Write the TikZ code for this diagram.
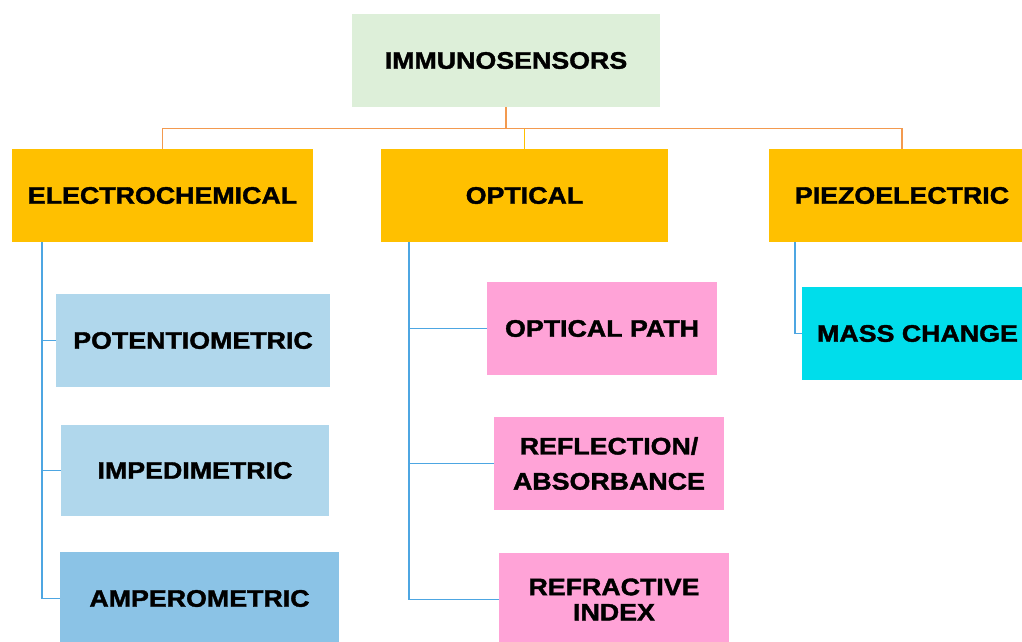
\documentclass[tikz,border=0pt]{standalone}
\usepackage{fontspec}
\setmainfont{Liberation Sans}[FakeStretch=1.12, BoldFeatures={FakeBold=1.6}]
\usepackage{xcolor}
\definecolor{topgreen}{RGB}{221,239,217}
\definecolor{gold}{RGB}{255,192,0}
\definecolor{paleblue}{RGB}{176,215,236}
\definecolor{midblue}{RGB}{139,195,230}
\definecolor{pink}{RGB}{255,163,215}
\definecolor{cyanbox}{RGB}{0,221,235}
\definecolor{orangeline}{RGB}{243,154,79}
\definecolor{blueline}{RGB}{77,166,226}
\usetikzlibrary{positioning}

\begin{document}
\begin{tikzpicture}[x=0.025cm, y=-0.025cm,
	box/.style={rectangle, inner sep=0pt, minimum height=2.325cm, align=center,
		font=\fontsize{17}{25}\selectfont\bfseries},
	trunk/.style={draw=orangeline, line width=1.4pt},
	branch/.style={draw=blueline, line width=1.4pt}]
	\clip (0,0) rectangle (1022,641);
	\fill[white] (0,0) rectangle (1022,641);
	% top
	\node[box, fill=topgreen, minimum width=7.7cm] (immuno) at (506,60.5) {IMMUNOSENSORS};
	% second row
	\node[box, fill=gold, minimum width=7.525cm] (elec) at (162.5,195.5) {ELECTROCHEMICAL};
	\node[box, fill=gold, minimum width=7.175cm] (optic) at (524.5,195.5) {OPTICAL};
	\node[box, fill=gold, minimum width=6.65cm] (piezo) at (902,195.5) {PIEZOELECTRIC};
	% electrochemical
	\node[box, fill=paleblue, minimum width=6.85cm] (potent) at (193,340.5) {POTENTIOMETRIC};
	\node[box, fill=paleblue, minimum width=6.7cm, minimum height=2.275cm] (imped) at (195,470.5) {IMPEDIMETRIC};
	\node[box, fill=midblue, minimum width=6.975cm] (ampero) at (199.5,598.5) {AMPEROMETRIC};
	% optical
	\node[box, fill=pink, minimum width=5.75cm] (optpath) at (602,328.5) {OPTICAL PATH};
	\node[box, fill=pink, minimum width=5.75cm] (reflect) at (609,463.5) {REFLECTION/\\ABSORBANCE};
	\node[box, fill=pink, minimum width=5.75cm, font=\fontsize{17}{18}\selectfont\bfseries] (refract) at (614,599.5) {REFRACTIVE\\INDEX};
	% piezoelectric
	\node[box, fill=cyanbox, minimum width=5.775cm] (mass) at (917.5,333.5) {MASS CHANGE};

	\coordinate (hub) at (506,128.5);
	\draw[trunk] (immuno.south) -- (hub);
	\draw[trunk] (hub) -| (elec.north);
	\draw[trunk] (hub) -| (piezo.north);
	\draw[draw=gold, line width=1.4pt] (hub -| optic.north) -- (optic.north);

	\draw[branch] ([xshift=0.75cm]elec.south west) |- (potent.west);
	\draw[branch] ([xshift=0.75cm]elec.south west) |- (imped.west);
	\draw[branch] ([xshift=0.75cm]elec.south west) |- (ampero.west);
	\draw[branch] ([xshift=0.7cm]optic.south west) |- (optpath.west);
	\draw[branch] ([xshift=0.7cm]optic.south west) |- (reflect.west);
	\draw[branch] ([xshift=0.7cm]optic.south west) |- (refract.west);
	\draw[branch] ([xshift=0.65cm]piezo.south west) |- (mass.west);
\end{tikzpicture}
\end{document}
